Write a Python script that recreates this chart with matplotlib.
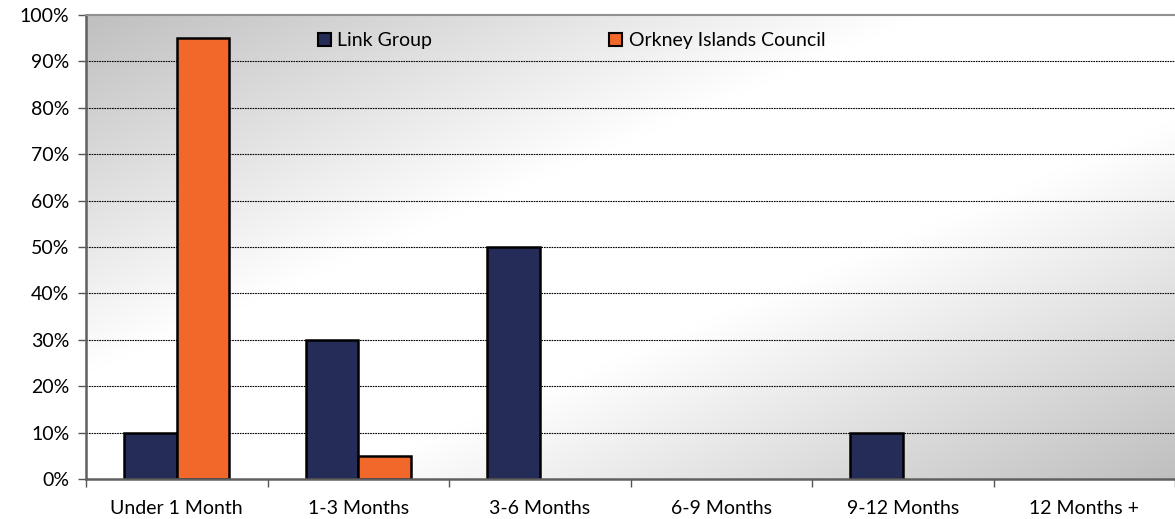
import numpy as np
import matplotlib
matplotlib.use("Agg")
import matplotlib.pyplot as plt
from matplotlib.ticker import FixedLocator, NullFormatter

plt.rcParams['font.family'] = ['Lato', 'DejaVu Sans']

categories = ["Under 1 Month", "1-3 Months", "3-6 Months", "6-9 Months", "9-12 Months", "12 Months +"]
link_group = [10, 30, 50, 0, 10, 0]
orkney = [95, 5, 0, 0, 0, 0]
series_names = ["Link Group", "Orkney Islands Council"]
yticks = [0, 10, 20, 30, 40, 50, 60, 70, 80, 90, 100]

navy = "#252C57"
orange = "#F2682B"
fs = 14

fig = plt.figure(figsize=(11.75, 5.19), dpi=100)
ax = fig.add_axes([86 / 1175, 1 - 479 / 519, 1 - 86 / 1175, (479 - 15) / 519])

# diagonal gradient background: grey corners top-left / bottom-right, white along the other diagonal
nx, ny = 400, 200
gx = np.linspace(0, 1, nx)
gy = np.linspace(0, 1, ny)
X, Y = np.meshgrid(gx, gy)
t = (X + Y) / 2
w = 1 - np.abs(2 * t - 1)
grey, white = 0.75, 1.0
val = grey + (white - grey) * np.clip(w * 1.3, 0, 1)
img = np.dstack([val, val, val])
ax.imshow(img, extent=[0, 1, 0, 1], transform=ax.transAxes, aspect="auto",
          origin="upper", zorder=0, interpolation="bilinear")
ax.set_facecolor("none")

x = np.arange(len(categories))
bw = 0.29


def edge_widths(values):
    return [1.8 if v > 0 else 0 for v in values]


b1 = ax.bar(x - bw / 2, link_group, bw, color=navy, edgecolor="black",
            linewidth=edge_widths(link_group), zorder=3, label=series_names[0])
b2 = ax.bar(x + bw / 2, orkney, bw, color=orange, edgecolor="black",
            linewidth=edge_widths(orkney), zorder=3, label=series_names[1])

ax.set_xlim(-0.5, len(categories) - 0.5)
ax.set_ylim(0, 100)

# grid
for v in yticks[1:-1]:
    ax.axhline(v, color="black", linewidth=0.8, linestyle=(0, (1.5, 0.8)), zorder=1)

ax.set_yticks(yticks)
ax.set_yticklabels([f"{v}%" for v in yticks])
ax.xaxis.set_major_locator(FixedLocator(np.arange(-0.5, len(categories), 1.0)))
ax.xaxis.set_major_formatter(NullFormatter())
ax.xaxis.set_minor_locator(FixedLocator(x))
ax.set_xticklabels(categories, minor=True)
ax.tick_params(axis="x", which="major", length=6, width=1, color="#555555")
ax.tick_params(axis="x", which="minor", length=0, pad=15, labelsize=fs)
ax.tick_params(axis="y", length=6, width=1, color="#555555", pad=6, labelsize=fs)

for side in ["left", "bottom"]:
    ax.spines[side].set_color("#606060")
    ax.spines[side].set_linewidth(1.8)
ax.spines["top"].set_color("#909090")
ax.spines["top"].set_linewidth(1.5)
ax.spines["right"].set_visible(False)
for s in ax.spines.values():
    s.set_zorder(4)

legend_handles = [
    plt.Rectangle((0, 0), 1, 1, facecolor=navy, edgecolor="black", linewidth=1.5),
    plt.Rectangle((0, 0), 1, 1, facecolor=orange, edgecolor="black", linewidth=1.5),
]
leg = ax.legend(legend_handles, series_names, ncol=2, loc="center left",
                bbox_to_anchor=((318 - 86) / 1089, 1 - (41 - 15) / 464),
                frameon=False, fontsize=fs, handlelength=0.65, handleheight=0.65,
                handletextpad=0.35, columnspacing=9.1, borderpad=0, borderaxespad=0)

fig.savefig("out.png", dpi=100)
